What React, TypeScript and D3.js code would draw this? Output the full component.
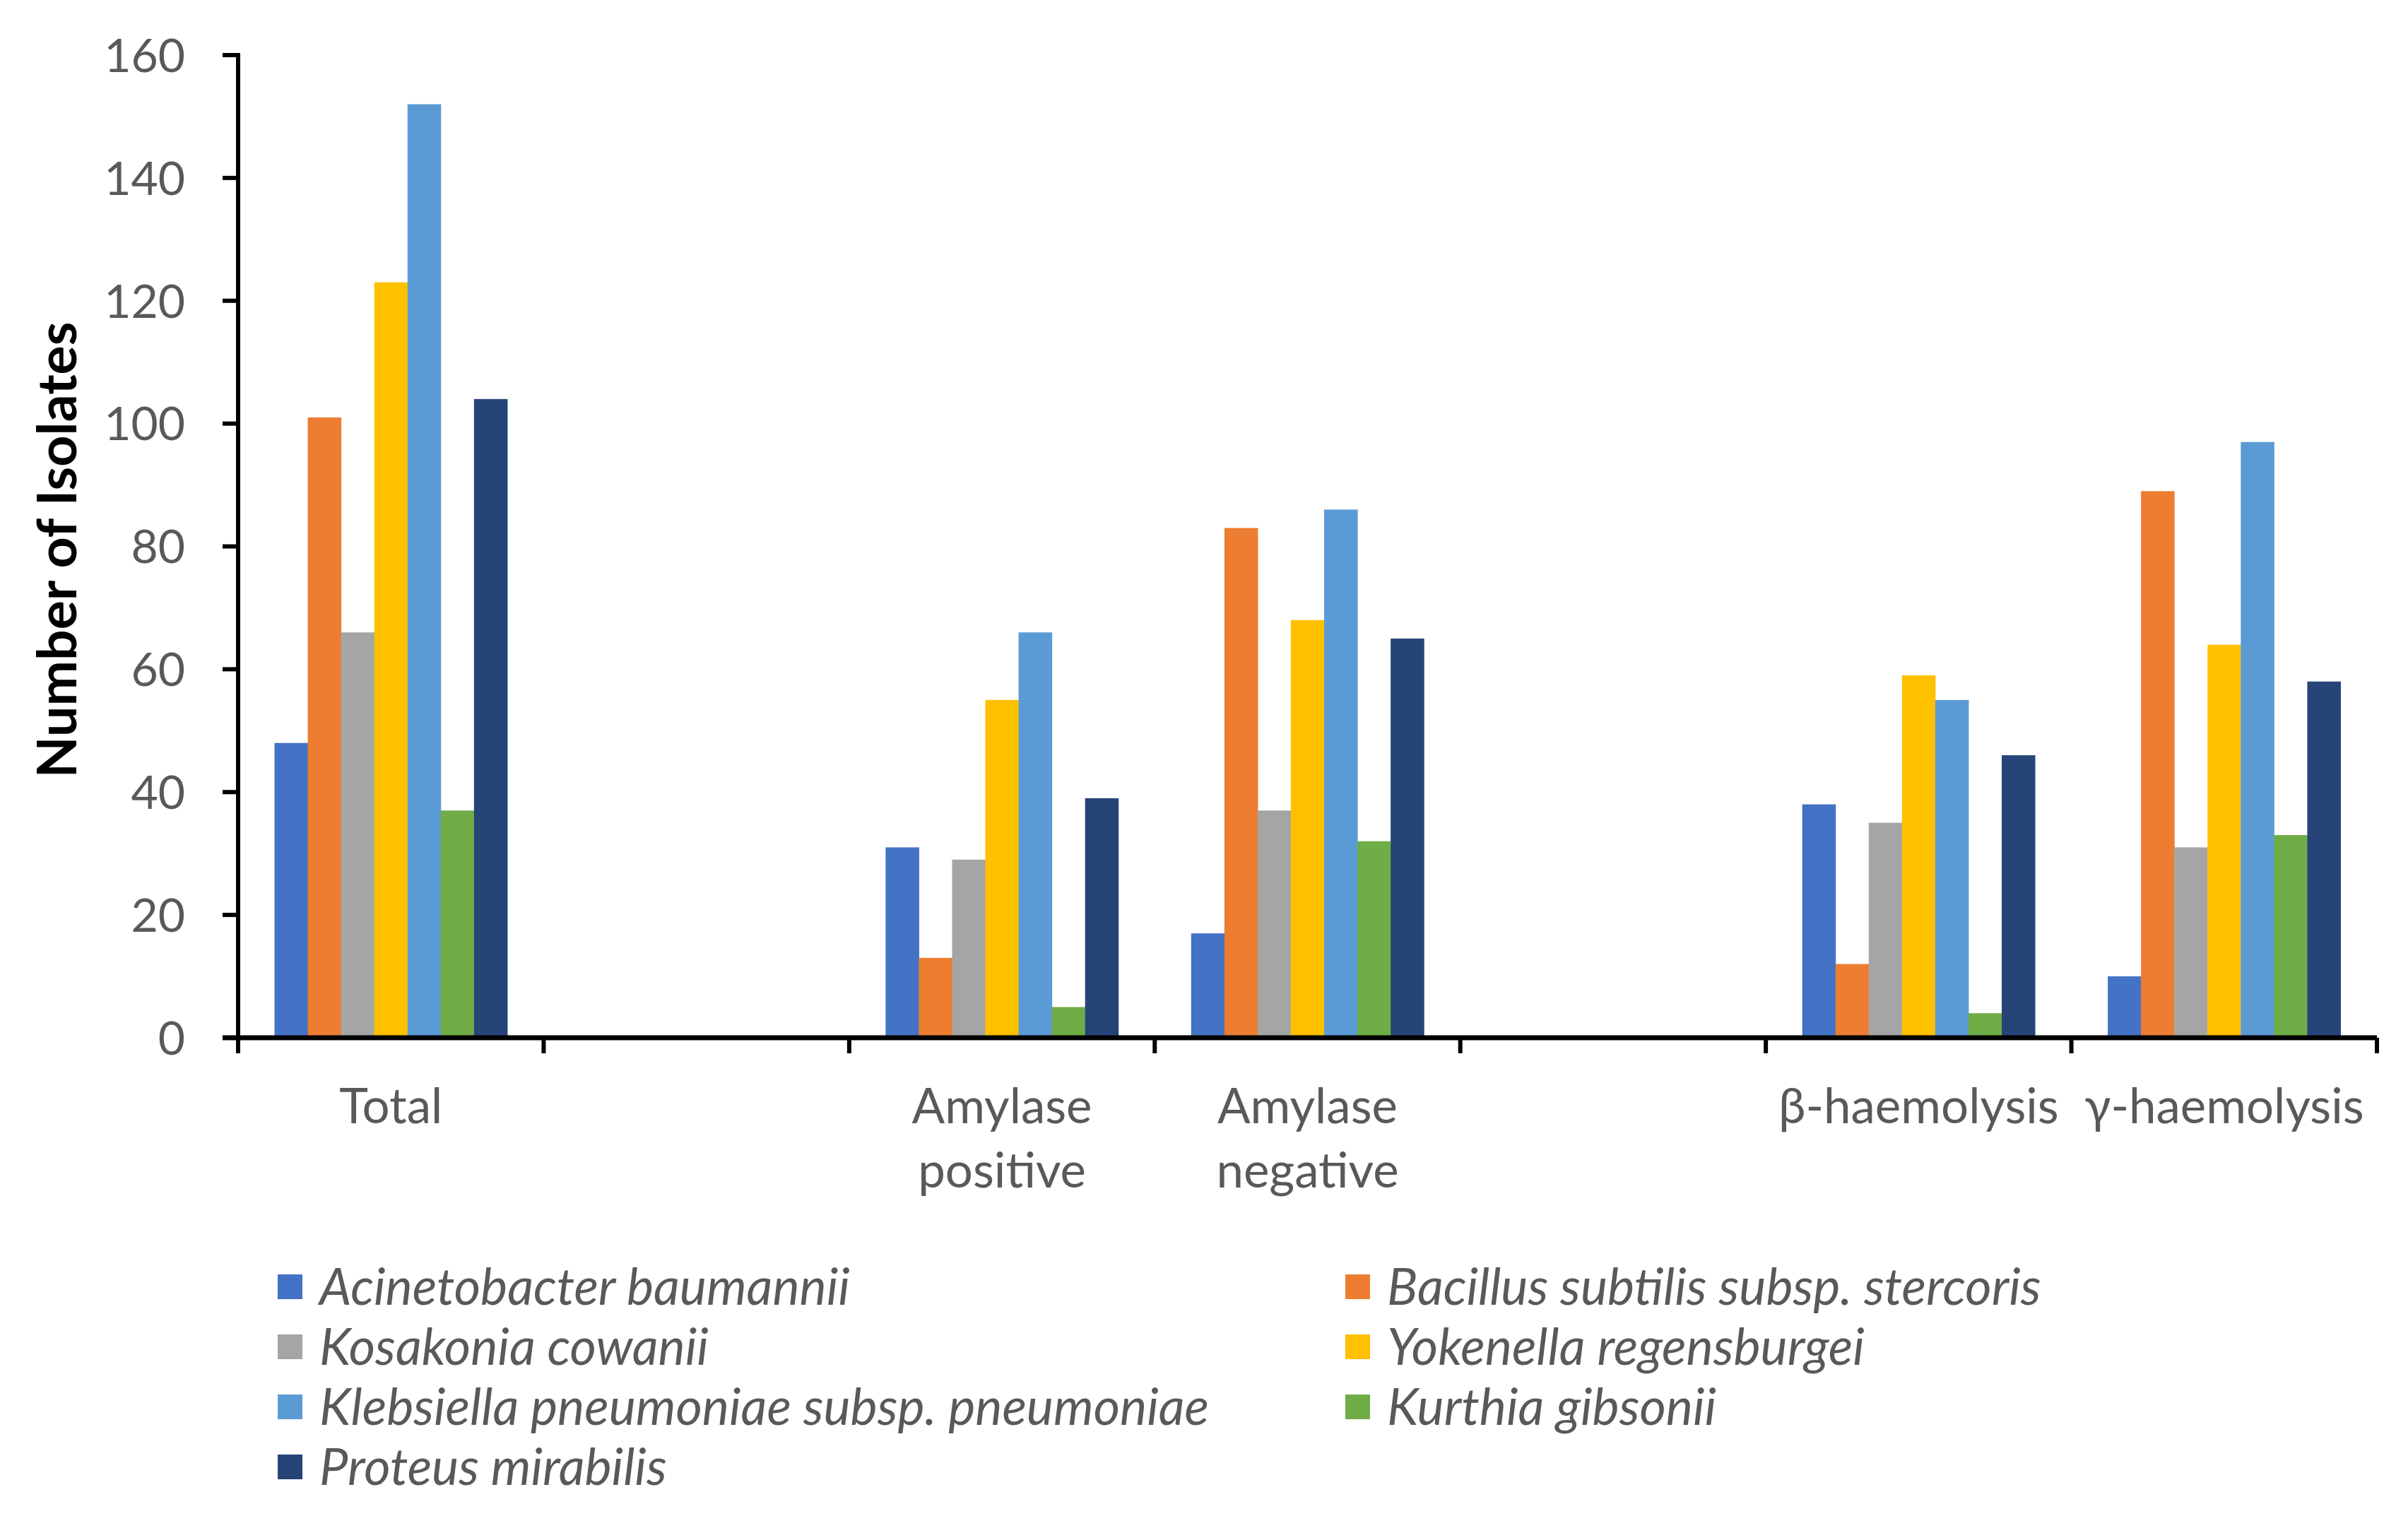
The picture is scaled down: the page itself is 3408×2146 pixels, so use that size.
import React from "react";
import * as d3 from "d3";

const categories = ["Total", "", "Amylase positive", "Amylase negative", "", "β-haemolysis", "γ-haemolysis"];

const seriesNames = [
  "Acinetobacter baumannii",
  "Bacillus subtilis subsp. stercoris",
  "Kosakonia cowanii",
  "Yokenella regensburgei",
  "Klebsiella pneumoniae subsp. pneumoniae",
  "Kurthia gibsonii",
  "Proteus mirabilis",
];

const seriesColors = ["#4472C4", "#ED7D31", "#A5A5A5", "#FFC000", "#5B9BD5", "#70AD47", "#264478"];

// one value per category for each species (null = empty slot)
const acinetobacter = [48, null, 31, 17, null, 38, 10];
const bacillus = [101, null, 13, 83, null, 12, 89];
const kosakonia = [66, null, 29, 37, null, 35, 31];
const yokenella = [123, null, 55, 68, null, 59, 64];
const klebsiella = [152, null, 66, 86, null, 55, 97];
const kurthia = [37, null, 5, 32, null, 4, 33];
const proteus = [104, null, 39, 65, null, 46, 58];

const seriesValues = [acinetobacter, bacillus, kosakonia, yokenella, klebsiella, kurthia, proteus];

const yTicks = [0, 20, 40, 60, 80, 100, 120, 140, 160];

const W = 3408;
const H = 2146;
const margin = { left: 337, right: 44, top: 78, bottom: 677 };

const App: React.FC = () => {
  const x0 = d3
    .scaleBand<number>()
    .domain(categories.map((_, i) => i))
    .range([margin.left, W - margin.right])
    .padding(0);

  const bw = x0.bandwidth();
  const gap = (bw * 2.19) / (seriesNames.length + 2.19);

  const x1 = d3
    .scaleBand<number>()
    .domain(seriesNames.map((_, i) => i))
    .range([gap / 2, bw - gap / 2])
    .padding(0);

  const y = d3
    .scaleLinear()
    .domain([0, 160])
    .range([H - margin.bottom, margin.top]);

  const y0 = y(0);
  const font = "Lato, 'Open Sans', sans-serif";
  const grey = "#595959";

  const tickEdges = d3.range(categories.length + 1).map((i) =>
    i < categories.length ? (x0(i) as number) : W - margin.right
  );

  return (
    <svg width={W} height={H} style={{ display: "block", background: "#fff" }}>
      <style>{`body{margin:0}`}</style>

      {/* bars */}
      {categories.map((_, ci) => (
        <g key={ci} transform={`translate(${x0(ci)},0)`}>
          {seriesValues.map((vals, si) => {
            const v = vals[ci];
            if (v == null) return null;
            return (
              <rect
                key={si}
                x={x1(si)}
                y={y(v)}
                width={x1.bandwidth() + 0.5}
                height={y0 - y(v)}
                fill={seriesColors[si]}
              />
            );
          })}
        </g>
      ))}

      {/* y axis */}
      <line x1={margin.left} x2={margin.left} y1={y(160) - 3} y2={y0 + 22} stroke="#000" strokeWidth={6} />
      {yTicks.map((t) => (
        <g key={t}>
          <line x1={margin.left - 22} x2={margin.left} y1={y(t)} y2={y(t)} stroke="#000" strokeWidth={6} />
          <text
            x={262}
            y={y(t)}
            dy="0.36em"
            textAnchor="end"
            fontFamily={font}
            fontSize={66}
            fill={grey}
          >
            {t}
          </text>
        </g>
      ))}

      {/* x axis */}
      <line x1={margin.left - 22} x2={W - margin.right} y1={y0} y2={y0} stroke="#000" strokeWidth={7} />
      {tickEdges.map((tx, i) => (
        <line key={i} x1={tx} x2={tx} y1={y0} y2={y0 + 22} stroke="#000" strokeWidth={6} />
      ))}
      {categories.map((c, i) => {
        if (!c) return null;
        const cx = (x0(i) as number) + bw / 2;
        const words = c.includes("haemolysis") ? [c] : c.split(" ");
        return (
          <text key={i} textAnchor="middle" fontFamily={font} fontSize={69} fill={grey}>
            {words.map((w, li) => (
              <tspan key={li} x={cx} y={1565 + li * 91} dy="0.36em">
                {w}
              </tspan>
            ))}
          </text>
        );
      })}

      {/* y title */}
      <text
        transform={`translate(80,${(y0 + y(160)) / 2 + 5}) rotate(-90)`}
        textAnchor="middle"
        dy="0.36em"
        fontFamily={font}
        fontWeight="bold"
        fontSize={77}
        fill="#000"
      >
        Number of Isolates
      </text>

      {/* legend */}
      {seriesNames.map((name, i) => {
        const col = i % 2;
        const row = Math.floor(i / 2);
        const lx = col === 0 ? 393 : 1904;
        const ly = 1821 + row * 85;
        return (
          <g key={name} transform={`translate(${lx},${ly})`}>
            <rect x={0} y={-17} width={35} height={35} fill={seriesColors[i]} />
            <text
              x={59}
              y={0}
              dy="0.36em"
              fontFamily={font}
              fontStyle="italic"
              fontSize={72}
              fill={grey}
            >
              {name}
            </text>
          </g>
        );
      })}
    </svg>
  );
};

export default App;
